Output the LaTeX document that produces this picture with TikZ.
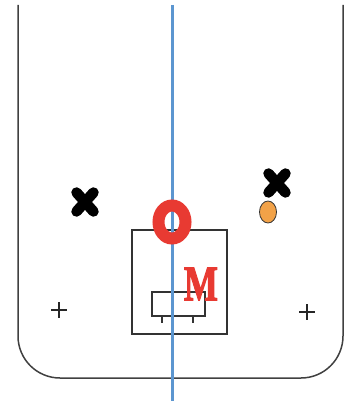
\documentclass[tikz,border=0pt]{standalone}
\usepackage{fontspec}
\newfontfamily\mfont{Liberation Serif Bold}[FakeBold=2.5]
\usetikzlibrary{calc}
\begin{document}
\begin{tikzpicture}[x=1pt,y=-1pt,
  outline/.style={draw=black!75,line width=1.5pt},
  boxline/.style={draw=black!80,line width=1.4pt},
  xmark/.style={line width=10.5pt,line cap=round,draw=black},
  plusmark/.style={line width=1.5pt,draw=black!85},
  axis/.style={draw=axisblue,line width=3pt}]
\definecolor{axisblue}{RGB}{92,150,208}
\definecolor{markred}{RGB}{232,58,50}
\definecolor{dotorange}{RGB}{242,162,72}
\useasboundingbox (0,0) rectangle (348,401);
% outer outline
\draw[outline,rounded corners=42pt] (18,5) -- (18,378) -- (343,378) -- (343,5);
% big box
\draw[boxline] (132,230) rectangle (227,334);
% small rectangle with ticks
\draw[boxline,line width=1.2pt] (152,292) rectangle (205,316);
\draw[boxline,line width=1.2pt] (162,316) -- (162,323);
\draw[boxline,line width=1.2pt] (193,316) -- (193,323);
% axis
\draw[axis] (172,5) -- (172,401);
% red O
\draw[draw=markred,line width=12pt] (172,222) ellipse [x radius=13.5pt,y radius=16.5pt];
% M
\node[text=markred,font=\mfont\fontsize{50}{50}\selectfont,xscale=0.72,inner sep=0pt] (m) at (201,284) {M};
% crosses
\coordinate (xl) at (85,202);
\coordinate (xr) at (277,183);
\foreach \c in {xl,xr}{
  \draw[xmark] ($(\c)+(-8.5,-9.5)$) -- ($(\c)+(8.5,9.5)$);
  \draw[xmark] ($(\c)+(-8.5,9.5)$) -- ($(\c)+(8.5,-9.5)$);
}
% orange dot
\draw[fill=dotorange,draw=black!80,line width=0.8pt] (268,212) ellipse [x radius=8.5pt,y radius=11pt];
% plus signs
\coordinate (pl) at (59,310);
\coordinate (pr) at (307,312);
\foreach \c in {pl,pr}{
  \draw[plusmark] ($(\c)+(-8,0)$) -- ($(\c)+(8,0)$);
  \draw[plusmark] ($(\c)+(0,-8)$) -- ($(\c)+(0,8)$);
}
\end{tikzpicture}
\end{document}
